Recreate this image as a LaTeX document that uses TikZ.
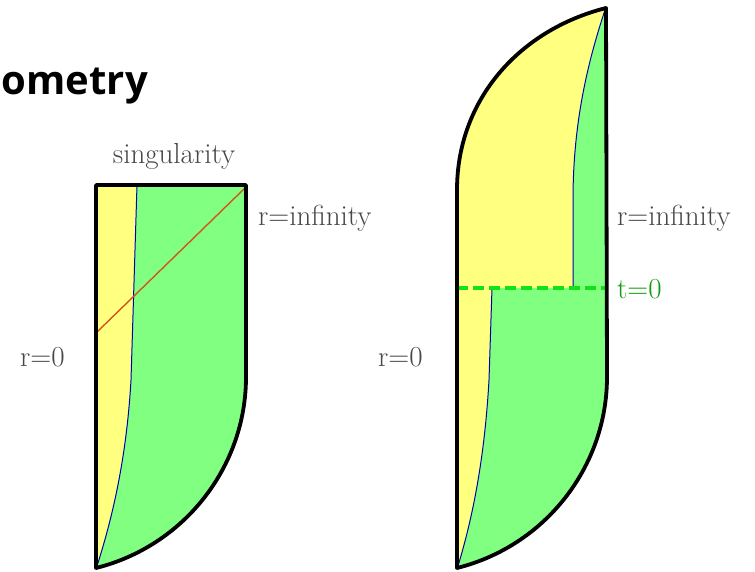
\documentclass[tikz,border=0pt]{standalone}
\usepackage{fontspec}
\newfontfamily\titlefont{Open Sans}
\begin{document}
\begin{tikzpicture}[x=1pt,y=-1pt,
  outline/.style={line width=3.8pt,line join=round},
  worldline/.style={draw=blue!70!black,line width=1pt},
  lbl/.style={inner sep=0pt,font=\fontsize{29}{34}\selectfont,text=black!72},
]
\definecolor{yel}{RGB}{255,255,128}
\definecolor{grn}{RGB}{128,255,128}
\definecolor{redl}{RGB}{210,85,30}
\definecolor{dgreen}{RGB}{20,225,20}
\useasboundingbox (0,0) rectangle (755,572);

% title
\node[inner sep=0pt,anchor=base east,font=\titlefont\bfseries\fontsize{40}{46}\selectfont] (title) at (148,95) {ometry};

% ---------- left diagram ----------
\fill[yel] (96,185) -- (246,185) -- (246,377) .. controls (246,467) and (184,546) .. (96,568) -- cycle;
\fill[grn] (137,185) -- (246,185) -- (246,377) .. controls (246,467) and (184,546) .. (96,568)
   .. controls (115,510) and (127,450) .. (131,380) -- cycle;
\draw[worldline] (137,185) -- (131,380) .. controls (127,450) and (115,510) .. (97,566);
\draw[redl,line width=1.4pt] (245,188) -- (96,333);
\draw[outline] (96,185) -- (246,185) -- (246,377) .. controls (246,467) and (184,546) .. (96,568) -- cycle;

\node[lbl,anchor=south] (sing) at (174,170) {singularity};
\node[lbl,anchor=west] (rinfL) at (258,218) {r=infinity};
\node[lbl,anchor=west] (r0L) at (20,357) {r=0};

% ---------- right diagram ----------
\fill[yel] (457,568) -- (457,190) .. controls (457,100) and (519,30) .. (606,8) -- (607,377)
   .. controls (607,467) and (545,546) .. (457,568) -- cycle;
\fill[grn] (606,8) .. controls (585,70) and (573,130) .. (573,200) -- (573,288) -- (607,288) -- cycle;
\fill[grn] (492,288) -- (489,380) .. controls (485,450) and (475,510) .. (457,568)
   .. controls (545,546) and (607,467) .. (607,377) -- (607,288) -- cycle;
\draw[worldline] (605,10) .. controls (585,70) and (573,130) .. (573,200) -- (573,288);
\draw[worldline] (492,288) -- (489,380) .. controls (485,450) and (475,510) .. (458,566);
\draw[dgreen,line width=4pt,dash pattern=on 11pt off 5pt] (457,288) -- (607,288);
\draw[outline] (457,568) -- (457,190) .. controls (457,100) and (519,30) .. (606,8) -- (607,377)
   .. controls (607,467) and (545,546) .. (457,568) -- cycle;

\node[lbl,anchor=west] (rinfR) at (617,218) {r=infinity};
\node[lbl,anchor=west,text=dgreen!70!black] (t0) at (617,289) {t=0};
\node[lbl,anchor=west] (r0R) at (378,357) {r=0};
\end{tikzpicture}
\end{document}
